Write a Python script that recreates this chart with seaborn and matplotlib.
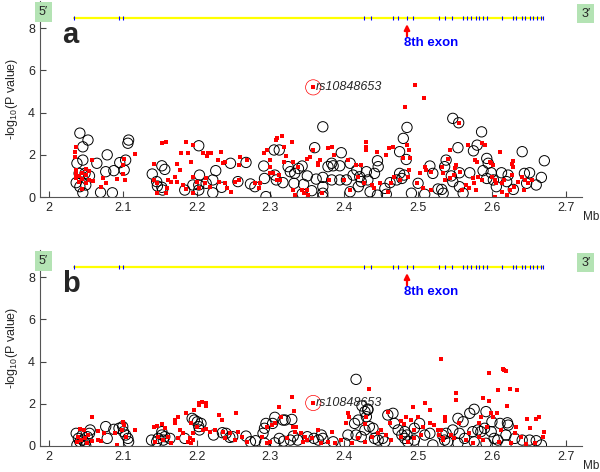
import numpy as np
import pandas as pd
import matplotlib
matplotlib.use("Agg")
import matplotlib.pyplot as plt
import seaborn as sns

# gene track (Mb)
gene_start, gene_end = 2.034, 2.669
exons = [2.034, 2.095, 2.101, 2.4265, 2.436, 2.466, 2.4725, 2.485, 2.493,
         2.529, 2.536, 2.5455, 2.5605, 2.566, 2.572, 2.578, 2.583, 2.588,
         2.593, 2.613, 2.628, 2.633, 2.641, 2.645, 2.651, 2.656, 2.661, 2.666, 2.669]
exon8 = 2.485
snp_pos = 2.358
snp_a, snp_b = 5.2, 2.04

# panel a : black circles (pos, -log10 p)
a_circles = [
    (2.042, 3.03), (2.046, 2.38), (2.053, 2.70), (2.038, 1.60), (2.046, 1.75), (2.041, 1.12),
    (2.037, 0.68), (2.042, 0.49), (2.046, 0.20), (2.050, 0.57), (2.049, 1.12), (2.055, 1.00),
    (2.065, 1.60), (2.070, 0.22), (2.077, 1.20), (2.079, 2.00), (2.086, 0.20), (2.088, 1.25),
    (2.096, 1.63), (2.102, 1.28), (2.104, 1.75), (2.107, 2.55), (2.108, 2.70),
    (2.140, 1.09), (2.146, 0.73), (2.153, 1.48), (2.157, 1.31), (2.147, 0.52), (2.153, 0.46),
    (2.154, 0.33), (2.184, 0.33), (2.195, 0.57), (2.203, 2.43), (2.204, 1.04), (2.203, 0.57),
    (2.203, 0.33), (2.213, 0.65), (2.222, 0.81), (2.222, 0.20), (2.226, 1.25), (2.234, 0.46),
    (2.246, 1.60), (2.256, 0.73), (2.267, 1.64), (2.273, 0.62), (2.279, 0.49), (2.291, 1.47),
    (2.292, 0.88), (2.294, 0.02), (2.305, 2.23), (2.312, 2.23), (2.308, 0.81), (2.306, 1.04),
    (2.317, 0.68), (2.324, 1.44), (2.327, 1.20), (2.333, 1.12), (2.332, 0.65),
    (2.345, 0.60), (2.350, 1.00), (2.338, 1.35), (2.356, 0.30), (2.362, 0.85), (2.343, 0.15),
    (2.371, 3.33), (2.360, 2.34), (2.343, 1.47), (2.383, 1.60), (2.396, 2.10), (2.394, 1.48),
    (2.385, 1.48), (2.378, 1.44), (2.371, 0.93), (2.371, 0.49), (2.371, 0.18), (2.371, 0.02),
    (2.383, 0.81), (2.394, 0.81), (2.403, 0.81), (2.408, 0.25), (2.408, 1.60), (2.412, 1.04),
    (2.417, 1.28), (2.421, 0.96), (2.423, 0.73), (2.419, 0.49), (2.432, 0.81), (2.435, 0.25),
    (2.430, 1.20), (2.445, 1.72), (2.446, 1.44), (2.441, 1.12), (2.445, 0.09), (2.455, 0.41),
    (2.462, 0.68), (2.457, 0.13), (2.471, 0.81), (2.475, 2.15), (2.475, 1.12), (2.480, 2.78),
    (2.485, 3.30), (2.481, 1.04), (2.478, 0.88), (2.484, 1.78), (2.491, 0.18), (2.500, 0.65),
    (2.509, 0.13), (2.516, 1.47), (2.520, 1.12), (2.527, 0.38), (2.532, 0.36), (2.534, 0.18),
    (2.536, 1.44), (2.538, 1.75), (2.545, 1.00), (2.547, 0.73), (2.554, 2.34), (2.556, 1.15),
    (2.556, 0.49), (2.561, 0.18), (2.547, 3.73), (2.555, 3.52), (2.570, 1.15), (2.575, 2.19),
    (2.580, 2.46), (2.586, 3.09), (2.588, 1.25), (2.593, 1.83), (2.593, 0.88), (2.595, 1.60),
    (2.599, 1.15), (2.602, 0.81), (2.606, 0.49), (2.613, 1.15), (2.620, 0.73), (2.622, 1.04),
    (2.629, 0.36), (2.641, 2.15), (2.644, 1.12), (2.647, 0.65), (2.651, 1.15), (2.660, 0.57),
    (2.667, 0.93), (2.671, 1.72),
]

# panel a : red dots
a_dots = [
    (2.037, 2.38), (2.036, 2.13), (2.036, 1.92), (2.037, 1.30), (2.037, 1.10), (2.037, 0.90),
    (2.041, 1.00), (2.041, 0.70), (2.045, 1.15), (2.045, 0.85), (2.045, 0.40), (2.050, 1.35),
    (2.050, 1.05), (2.050, 0.65), (2.055, 1.25), (2.055, 0.80), (2.059, 1.75), (2.060, 0.75),
    (2.071, 0.49), (2.073, 0.88), (2.078, 0.65), (2.092, 0.87), (2.100, 1.52), (2.102, 1.79),
    (2.103, 0.81), (2.101, 1.10), (2.117, 2.02),
    (2.143, 1.56), (2.153, 2.54), (2.158, 2.61), (2.143, 0.81), (2.146, 0.65), (2.161, 0.81),
    (2.160, 0.41), (2.146, 0.20), (2.158, 0.20), (2.166, 0.73), (2.179, 2.07), (2.174, 1.55),
    (2.177, 1.30), (2.171, 0.96), (2.173, 0.73), (2.182, 0.57), (2.186, 2.62), (2.195, 2.46),
    (2.188, 2.07), (2.193, 1.67), (2.186, 0.40), (2.195, 0.20),
    (2.209, 2.07), (2.216, 2.09), (2.220, 2.07), (2.214, 1.96), (2.233, 2.15), (2.229, 1.75),
    (2.236, 1.60), (2.238, 1.67), (2.195, 0.96), (2.200, 0.73), (2.213, 0.88), (2.211, 0.65),
    (2.204, 0.41), (2.218, 0.49), (2.231, 0.73), (2.239, 0.65), (2.241, 0.41), (2.247, 0.25),
    (2.259, 1.91), (2.258, 1.52), (2.252, 0.73), (2.257, 0.81), (2.268, 1.75), (2.286, 0.65),
    (2.279, 0.65), (2.284, 0.41), (2.291, 2.07), (2.295, 2.25), (2.299, 1.75), (2.299, 1.44),
    (2.307, 2.70), (2.309, 2.78), (2.316, 2.91), (2.318, 2.38), (2.321, 1.96), (2.318, 1.67),
    (2.329, 2.62), (2.299, 1.12), (2.304, 1.12), (2.311, 1.04), (2.313, 0.81), (2.309, 0.81),
    (2.330, 1.67), (2.337, 1.44), (2.331, 0.33), (2.334, 0.10), (2.345, 0.17), (2.349, 0.33),
    (2.351, 0.10), (2.343, 0.33), (2.353, 1.88), (2.350, 1.78), (2.358, 2.23), (2.364, 1.62),
    (2.496, 5.31), (2.508, 4.68), (2.482, 4.28), (2.430, 2.62), (2.430, 2.38), (2.430, 2.22),
    (2.444, 2.15), (2.456, 1.99), (2.461, 2.31), (2.466, 2.38), (2.480, 1.83), (2.485, 2.46),
    (2.488, 2.22), (2.489, 1.83), (2.488, 1.28), (2.487, 0.96), (2.378, 2.31), (2.383, 2.38),
    (2.386, 1.99), (2.367, 1.75), (2.365, 1.52), (2.405, 1.75), (2.416, 1.52), (2.423, 1.52),
    (2.380, 0.81), (2.400, 0.81), (2.418, 0.96), (2.427, 0.65), (2.438, 0.57), (2.440, 0.41),
    (2.449, 0.65), (2.463, 0.65), (2.467, 0.96), (2.476, 0.81), (2.498, 0.65), (2.502, 1.12),
    (2.509, 1.44), (2.511, 1.28), (2.518, 1.20), (2.506, 0.41), (2.518, 0.33), (2.459, 0.25),
    (2.408, 0.33), (2.370, 0.18),
    (2.556, 3.52), (2.543, 2.23), (2.568, 2.49), (2.586, 2.54), (2.591, 2.49), (2.611, 2.12),
    (2.577, 1.75), (2.580, 1.67), (2.597, 1.67), (2.599, 1.59), (2.601, 1.52), (2.552, 1.52),
    (2.550, 1.36), (2.557, 1.20), (2.548, 1.04), (2.543, 0.88), (2.628, 1.71), (2.627, 1.55),
    (2.629, 1.44), (2.541, 1.78), (2.581, 0.96), (2.587, 0.81), (2.600, 0.96), (2.604, 0.81),
    (2.606, 0.65), (2.613, 0.65), (2.617, 0.81), (2.627, 1.04), (2.636, 0.73), (2.641, 0.96),
    (2.645, 0.81), (2.649, 0.65), (2.654, 0.81), (2.614, 0.25), (2.620, 0.10), (2.604, 0.02),
    (2.565, 0.57), (2.576, 0.65), (2.569, 0.41), (2.560, 0.33), (2.536, 0.81), (2.534, 1.12),
    (2.532, 1.44), (2.578, 0.33), (2.625, 0.33), (2.630, 0.49), (2.643, 0.33), (2.575, 0.92),
]

# panel b : black circles
b_circles = [
    (2.037, 0.60), (2.040, 0.36), (2.042, 0.20), (2.038, 0.05), (2.046, 0.28), (2.050, 0.00),
    (2.052, 0.44), (2.055, 0.60), (2.056, 0.76), (2.049, 0.15), (2.045, 0.50), (2.077, 0.92),
    (2.079, 0.36), (2.088, 0.79), (2.095, 0.84), (2.100, 0.92), (2.101, 0.68), (2.104, 0.52),
    (2.107, 0.36), (2.108, 0.20), (2.139, 0.28), (2.146, 0.20), (2.148, 0.36), (2.153, 0.68),
    (2.153, 0.52), (2.157, 0.44), (2.164, 0.36), (2.155, 0.28), (2.184, 0.36), (2.194, 1.31),
    (2.201, 1.15), (2.203, 0.92), (2.204, 0.76), (2.206, 1.07), (2.197, 1.23), (2.223, 0.52),
    (2.235, 0.63), (2.240, 0.60), (2.245, 0.41), (2.249, 0.44), (2.267, 0.47), (2.273, 0.20),
    (2.280, 0.25), (2.290, 0.60), (2.292, 0.84), (2.294, 1.07), (2.292, 0.13), (2.306, 1.36),
    (2.317, 1.23), (2.320, 1.23), (2.329, 1.26), (2.306, 0.15), (2.312, 0.36), (2.318, 0.23),
    (2.327, 0.28), (2.331, 0.47), (2.337, 0.28), (2.303, 1.07), (2.359, 0.36), (2.350, 0.44),
    (2.416, 3.16), (2.428, 1.63), (2.432, 1.71), (2.430, 1.39), (2.419, 1.23), (2.414, 1.07),
    (2.434, 0.92), (2.439, 0.84), (2.428, 0.76), (2.441, 0.36), (2.446, 0.28), (2.459, 1.47),
    (2.466, 1.55), (2.468, 1.07), (2.473, 0.76), (2.482, 0.68), (2.485, 0.52), (2.478, 0.52),
    (2.502, 1.07), (2.495, 0.84), (2.516, 0.60), (2.520, 0.05), (2.369, 0.52), (2.371, 0.36),
    (2.365, 0.28), (2.385, 0.20), (2.401, 0.13), (2.405, 0.52), (2.416, 0.52), (2.423, 0.44),
    (2.452, 0.36), (2.455, 0.20), (2.482, 0.36), (2.486, 0.20), (2.495, 0.28), (2.509, 0.52),
    (2.424, 1.90), (2.432, 1.75),
    (2.554, 1.31), (2.561, 1.15), (2.570, 1.55), (2.576, 1.74), (2.592, 1.63), (2.600, 1.15),
    (2.611, 1.07), (2.621, 1.10), (2.622, 0.99), (2.547, 0.76), (2.556, 0.60), (2.538, 0.60),
    (2.574, 0.68), (2.581, 0.76), (2.585, 0.68), (2.590, 0.84), (2.599, 0.68), (2.619, 0.52),
    (2.603, 0.36), (2.608, 0.28), (2.631, 0.36), (2.641, 0.28), (2.651, 0.28), (2.660, 0.25),
    (2.667, 0.05), (2.619, 0.05), (2.592, 0.13), (2.576, 0.20), (2.563, 0.36), (2.554, 0.13),
    (2.540, 0.20), (2.536, 0.28), (2.533, 0.52),
]

# panel b : red dots
b_dots = [
    (2.059, 1.39), (2.042, 0.79), (2.047, 0.76), (2.040, 0.44), (2.044, 0.28), (2.049, 0.36),
    (2.053, 0.52), (2.058, 0.25), (2.038, 0.20), (2.051, 0.13), (2.067, 0.28), (2.066, 0.71),
    (2.071, 0.25), (2.075, 0.60), (2.089, 0.60), (2.092, 0.05), (2.101, 1.15), (2.102, 0.99),
    (2.099, 0.76), (2.105, 0.44), (2.117, 0.76), (2.143, 0.88), (2.146, 0.94), (2.153, 1.04),
    (2.157, 0.84), (2.148, 0.44), (2.155, 0.28), (2.144, 0.20), (2.162, 0.44), (2.171, 1.23),
    (2.171, 1.11), (2.175, 1.39), (2.177, 0.76), (2.182, 0.60), (2.186, 1.58), (2.193, 1.07),
    (2.195, 0.60), (2.191, 0.36), (2.175, 0.36), (2.188, 0.20), (2.166, 0.13),
    (2.204, 2.02), (2.207, 2.10), (2.213, 2.02), (2.213, 1.90), (2.204, 1.93), (2.196, 1.71),
    (2.231, 1.47), (2.253, 1.58), (2.234, 1.23), (2.200, 0.92), (2.209, 0.76), (2.213, 0.79),
    (2.218, 0.68), (2.225, 0.76), (2.236, 0.68), (2.238, 0.36), (2.245, 0.60), (2.256, 0.68),
    (2.261, 0.44), (2.252, 0.28), (2.268, 0.20), (2.195, 0.28), (2.193, 0.13), (2.288, 0.44),
    (2.296, 0.92), (2.302, 0.99), (2.306, 1.07), (2.312, 1.83), (2.314, 1.39), (2.329, 2.34),
    (2.332, 1.68), (2.331, 0.92), (2.335, 0.92), (2.333, 0.68), (2.322, 0.36), (2.299, 0.20),
    (2.342, 0.60), (2.347, 0.44), (2.350, 0.28), (2.356, 0.36), (2.344, 0.20), (2.295, 0.13),
    (2.434, 2.69), (2.405, 1.58), (2.407, 1.39), (2.403, 1.07), (2.430, 1.36), (2.428, 1.04),
    (2.509, 2.05), (2.516, 1.71), (2.500, 1.36), (2.491, 1.23), (2.484, 1.36), (2.481, 1.04),
    (2.477, 1.20), (2.516, 1.07), (2.522, 0.99), (2.507, 0.92), (2.495, 0.76), (2.459, 1.63),
    (2.462, 1.07), (2.446, 0.60), (2.450, 0.76), (2.457, 0.52), (2.437, 0.44), (2.419, 0.36),
    (2.396, 0.28), (2.387, 0.13), (2.378, 0.20), (2.369, 0.13), (2.410, 0.13), (2.428, 0.20),
    (2.464, 0.28), (2.477, 0.44), (2.486, 0.20), (2.495, 0.36), (2.504, 0.52), (2.527, 0.76),
    (2.529, 0.52), (2.534, 0.28), (2.365, 0.76), (2.383, 0.68), (2.493, 1.85), (2.552, 2.19),
    (2.531, 4.11), (2.596, 3.44), (2.615, 3.63), (2.619, 3.57), (2.617, 3.60), (2.624, 2.70),
    (2.608, 2.65), (2.634, 2.65), (2.552, 2.52), (2.588, 2.26), (2.596, 2.15), (2.621, 1.90),
    (2.599, 1.58), (2.585, 1.36), (2.601, 1.39), (2.647, 1.26), (2.660, 1.26), (2.664, 1.39),
    (2.607, 1.58), (2.537, 1.39), (2.537, 1.20), (2.556, 1.07), (2.582, 1.10), (2.594, 0.91),
    (2.612, 0.76), (2.633, 0.91), (2.651, 0.84), (2.631, 0.60), (2.670, 0.68), (2.669, 0.44),
    (2.640, 0.44), (2.583, 0.41), (2.569, 0.60), (2.545, 0.52), (2.549, 0.36), (2.565, 0.28),
    (2.588, 0.28), (2.610, 0.20), (2.626, 0.13), (2.646, 0.10), (2.658, 0.16), (2.574, 0.13),
    (2.531, 0.76), (2.534, 0.36),
]

xticks = [2.0, 2.1, 2.2, 2.3, 2.4, 2.5, 2.6, 2.7]
xticklabels = ["2", "2.1", "2.2", "2.3", "2.4", "2.5", "2.6", "2.7"]
yticks = [0, 2, 4, 6, 8]

sns.set_style("ticks")
plt.rcParams["font.family"] = ["Liberation Sans", "DejaVu Sans"]
plt.rcParams["mathtext.default"] = "regular"

fig = plt.figure(figsize=(6, 4.72), dpi=100)
ax_a = fig.add_axes([40 / 600, 0.5826, 542 / 600, 0.4155])
ax_b = fig.add_axes([40 / 600, 0.0551, 542 / 600, 0.4155])

gene_y = 8.48


def draw_panel(ax, circles, dots, snp_y, letter):
    c = pd.DataFrame(circles, columns=["pos", "logp"])
    d = pd.DataFrame(dots, columns=["pos", "logp"])
    sns.scatterplot(data=c, x="pos", y="logp", ax=ax, marker="o", s=55,
                    color="black", facecolors="none", edgecolor="black", linewidth=0.7)
    sns.scatterplot(data=d, x="pos", y="logp", ax=ax, marker="s", s=5,
                    color="#ff0000", linewidth=0)
    ax.scatter([snp_pos], [snp_y], marker="s", s=5, color="#ff0000", linewidths=0)
    ax.scatter([snp_pos], [snp_y], s=120, facecolors="none", edgecolors="red", linewidths=0.5)
    ax.text(snp_pos + 0.003, snp_y, "rs10848653", style="italic", fontsize=9,
            va="center", ha="left")

    # gene track
    ax.plot([gene_start, gene_end], [gene_y, gene_y], color="#ffff00", lw=1.6, zorder=2)
    ax.scatter(exons, [gene_y] * len(exons), marker="|", s=6, color="blue",
               linewidths=0.8, zorder=3)
    ax.annotate("", xy=(exon8, 8.2), xytext=(exon8, 7.62),
                arrowprops=dict(arrowstyle="-|>", color="red", lw=1.6,
                                mutation_scale=8, shrinkA=0, shrinkB=0))
    ax.text(exon8 - 0.004, 7.3, "8th exon", color="blue", fontweight="bold",
            fontsize=9.5, ha="left", va="center")
    ax.text(1.9925, 8.78, "5\u2032", fontsize=9, ha="center", va="center",
            bbox=dict(boxstyle="square,pad=0.3", fc="#b4e3b4", ec="none"), clip_on=False)
    ax.text(2.727, 8.7, "3\u2032", fontsize=9, ha="center", va="center",
            bbox=dict(boxstyle="square,pad=0.3", fc="#b4e3b4", ec="none"), clip_on=False)
    ax.text(2.018, 7.28, letter, fontsize=21, fontweight="bold", va="baseline", ha="left")
    ax.text(2.723, -0.95, "Mb", fontsize=8.5, ha="left", va="center", clip_on=False)

    ax.set_xlim(1.988, 2.722)
    ax.set_ylim(0, 9.3)
    ax.set_xticks(xticks)
    ax.set_xticklabels(xticklabels)
    ax.set_yticks(yticks)
    ax.tick_params(direction="in", length=4, labelsize=9, color="#444444")
    ax.set_xlabel("")
    ax.set_ylabel("-log$_{10}$(P value)", fontsize=9, labelpad=6)
    sns.despine(ax=ax)
    for s in ["left", "bottom"]:
        ax.spines[s].set_color("#555555")
        ax.spines[s].set_linewidth(0.8)


draw_panel(ax_a, a_circles, a_dots, snp_a, "a")
draw_panel(ax_b, b_circles, b_dots, snp_b, "b")

fig.savefig("out.png", dpi=100)
